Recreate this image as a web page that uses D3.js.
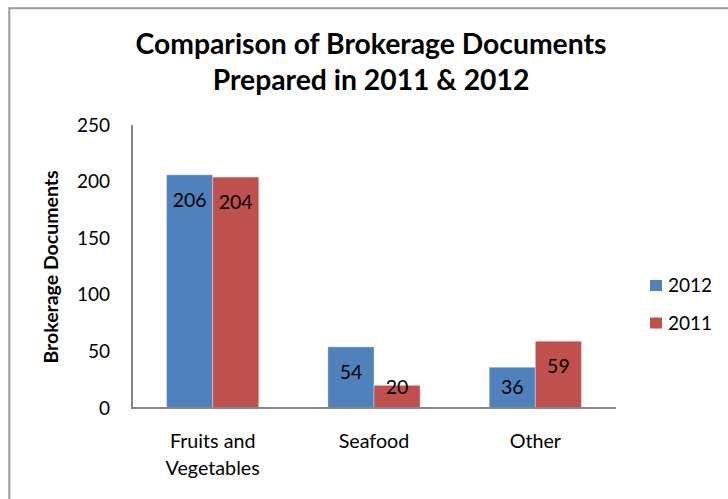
<!DOCTYPE html>
<html>
<head>
<meta charset="utf-8">
<script src="https://cdn.jsdelivr.net/npm/d3@7"></script>
<style>
  html, body { margin: 0; padding: 0; background: #fff; }
  svg { display: block; }
  text { font-family: Lato, "Open Sans", sans-serif; fill: #000; }
</style>
</head>
<body>
<svg id="chart" width="728" height="499"></svg>
<script>
// Chart data
const categories = ["Fruits and Vegetables", "Seafood", "Other"];
const categoryLines = [["Fruits and", "Vegetables"], ["Seafood"], ["Other"]];
const seriesNames = ["2012", "2011"];
const values2012 = [206, 54, 36];
const values2011 = [204, 20, 59];
const seriesColors = ["#4F81BD", "#C0504D"];
const yTickValues = [0, 50, 100, 150, 200, 250];
const titleLines = ["Comparison of Brokerage Documents", "Prepared in 2011 & 2012"];
const yAxisTitle = "Brokerage Documents";

const seriesValues = [values2012, values2011];

const svg = d3.select("#chart");

// Outer chart frame
svg.append("rect")
  .attr("x", 9.3).attr("y", 8.2)
  .attr("width", 900).attr("height", 700)
  .attr("fill", "none")
  .attr("stroke", "#9c9c9c")
  .attr("stroke-width", 2);

// Plot area
const plot = { left: 132, right: 616, top: 125, bottom: 408 };

const x0 = d3.scaleBand()
  .domain(categories)
  .range([plot.left, plot.right])
  .paddingInner(1.5 / 3.5)
  .paddingOuter(0.75 / 3.5);

const x1 = d3.scaleBand()
  .domain(seriesNames)
  .range([0, x0.bandwidth()]);

const y = d3.scaleLinear()
  .domain([0, 250])
  .range([plot.bottom, plot.top]);

// Title
svg.append("g").selectAll("text")
  .data(titleLines)
  .join("text")
  .attr("x", 371)
  .attr("y", (d, i) => 54 + i * 36)
  .attr("text-anchor", "middle")
  .style("font-weight", "bold")
  .style("font-size", "28.3px")
  .text(d => d);

// Y axis tick labels
const yAxis = d3.axisLeft(y)
  .tickValues(yTickValues)
  .tickSize(0)
  .tickPadding(22);

const yAxisG = svg.append("g")
  .attr("transform", `translate(${plot.left},0)`)
  .call(yAxis);
yAxisG.select(".domain").remove();
yAxisG.selectAll("text")
  .style("font-family", "Lato, sans-serif")
  .style("font-size", "19px")
  .attr("fill", "#000");

// Y axis title
svg.append("text")
  .attr("transform", "translate(58,267) rotate(-90)")
  .attr("text-anchor", "middle")
  .style("font-weight", "bold")
  .style("font-size", "19.5px")
  .text(yAxisTitle);

// Bars
const groups = svg.append("g").selectAll("g")
  .data(categories)
  .join("g")
  .attr("transform", d => `translate(${x0(d)},0)`);

const barData = (cat, ci) => seriesNames.map((s, si) => ({
  series: s, value: seriesValues[si][ci], color: seriesColors[si]
}));

groups.selectAll("rect")
  .data((d, ci) => barData(d, ci))
  .join("rect")
  .attr("x", d => x1(d.series))
  .attr("y", d => y(d.value))
  .attr("width", x1.bandwidth())
  .attr("height", d => y(0) - y(d.value))
  .attr("fill", d => d.color)
  .attr("stroke", "rgba(255,255,255,0.35)")
  .attr("stroke-width", 1);

// Value labels, placed inside the top of each bar
groups.selectAll("text.value")
  .data((d, ci) => barData(d, ci))
  .join("text")
  .attr("class", "value")
  .attr("x", d => x1(d.series) + x1.bandwidth() / 2)
  .attr("y", d => Math.min(y(d.value) + 25, y(0) - 21))
  .attr("dy", "0.35em")
  .attr("text-anchor", "middle")
  .style("font-size", "19.5px")
  .text(d => d.value);

// Axis lines
svg.append("line")
  .attr("x1", plot.left).attr("x2", plot.left)
  .attr("y1", plot.top).attr("y2", plot.bottom)
  .attr("stroke", "#868686").attr("stroke-width", 2);
svg.append("line")
  .attr("x1", plot.left - 1).attr("x2", plot.right)
  .attr("y1", plot.bottom).attr("y2", plot.bottom)
  .attr("stroke", "#868686").attr("stroke-width", 2);

// Category labels
svg.append("g").selectAll("text")
  .data(categories)
  .join("text")
  .attr("x", d => x0(d) + x0.bandwidth() / 2)
  .attr("y", 448)
  .attr("text-anchor", "middle")
  .style("font-size", "19.7px")
  .each(function(d, i) {
    d3.select(this).selectAll("tspan")
      .data(categoryLines[i])
      .join("tspan")
      .attr("x", x0(d) + x0.bandwidth() / 2)
      .attr("dy", (t, j) => j === 0 ? 0 : 27)
      .text(t => t);
  });

// Legend
const legend = svg.append("g").selectAll("g")
  .data(seriesNames)
  .join("g")
  .attr("transform", (d, i) => `translate(650,${280 + i * 37.5})`);
legend.append("rect")
  .attr("width", 12).attr("height", 11)
  .attr("fill", (d, i) => seriesColors[i]);
legend.append("text")
  .attr("x", 18).attr("y", 5.5)
  .attr("dy", "0.35em")
  .style("font-size", "19px")
  .text(d => d);
</script>
</body>
</html>
